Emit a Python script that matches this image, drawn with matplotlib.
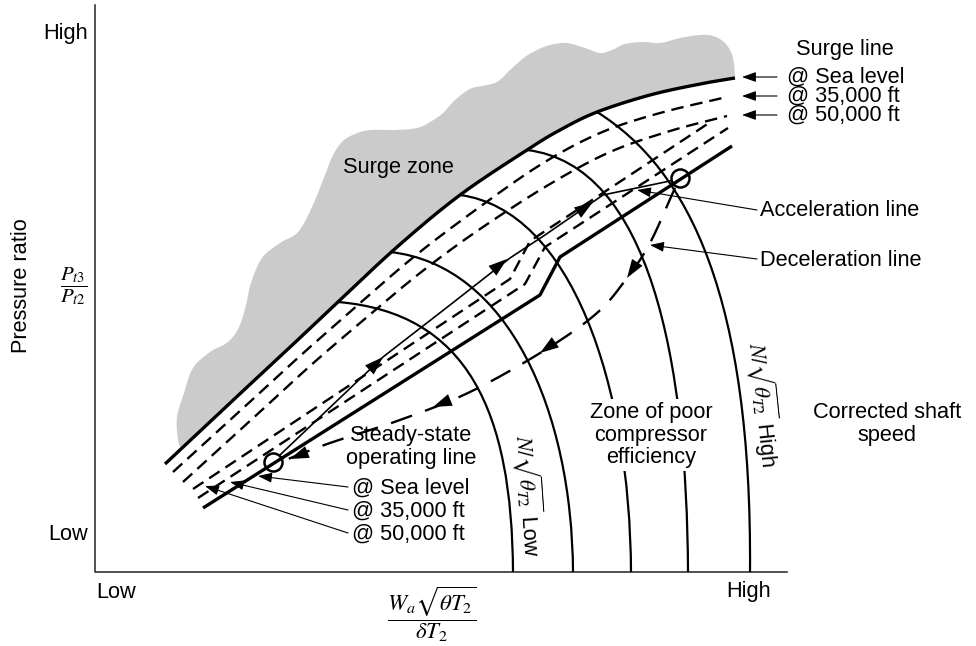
import numpy as np
import matplotlib
matplotlib.use("Agg")
import matplotlib.pyplot as plt
from matplotlib.path import Path
from matplotlib.patches import PathPatch

plt.rcParams['font.family'] = ['Liberation Sans', 'DejaVu Sans']
plt.rcParams['mathtext.fontset'] = 'stix'
plt.rcParams['lines.scale_dashes'] = False

# axis frame (figure pixel coordinates, y down)
frame_x = [95, 95, 787]
frame_y = [5, 572, 572]

# surge lines
surge_sea = [(165, 464), (230, 403), (287, 350), (338, 302), (397, 247), (460, 195),
             (527, 150), (560, 130), (597, 112), (650, 95), (700, 84), (735, 78)]
surge_35k = [(173, 472), (240, 411), (300, 356), (350, 312), (410, 260), (470, 214),
             (540, 165), (600, 133), (660, 113), (727, 97)]
surge_50k = [(183, 482), (250, 421), (310, 366), (360, 323), (420, 273), (480, 229),
             (550, 184), (610, 152), (670, 131), (727, 116)]

# surge zone upper edge, right to left
zone_edge = [(735, 78), (734, 64), (731, 52), (724, 42), (713, 36), (700, 35), (680, 38),
             (660, 43), (643, 42), (625, 44), (612, 50), (600, 53), (585, 48), (567, 43),
             (550, 45), (537, 50), (525, 57), (510, 70), (497, 82), (482, 86), (470, 89),
             (455, 100), (443, 113), (430, 122), (417, 128), (395, 130), (370, 130),
             (355, 134), (343, 141), (333, 155), (325, 175), (312, 207), (298, 232),
             (280, 243), (262, 258), (251, 283), (246, 305), (239, 327), (228, 342),
             (210, 352), (193, 368), (184, 393), (177, 417), (178, 440), (181, 449)]

# steady-state operating lines
op_sea = [(203, 508), (540, 295), (560, 257), (732, 146)]
op_35k = [(198, 498), (525, 284), (545, 247), (728, 128)]
op_50k = [(193, 489), (510, 279), (530, 241), (712, 121)]

# corrected speed lines, low to high (start on surge line, two handles, end on axis)
speed_lines = [
    [(338, 302), (468, 313), (512, 412), (513, 572)],
    [(390, 252), (509, 265), (572, 412), (573, 572)],
    [(460, 195), (571, 210), (630, 384), (631, 572)],
    [(527, 150), (650, 165), (687, 361), (688, 572)],
    [(597, 112), (690, 170), (752, 300), (750, 572)],
]

accel = [(280, 455), (383, 357), (450, 305), (510, 258), (545, 235), (603, 195), (670, 181)]
decel = [(675, 188), (650, 243), (627, 278), (597, 313), (545, 350), (470, 392), (400, 420),
         (330, 443), (283, 461)]
accel_heads = [((273, 462), (383, 357)), ((450, 305), (507, 259)), ((545, 235), (593, 202))]
decel_heads = [((650, 243), (627, 278)), ((597, 313), (540, 353)), ((470, 392), (433, 407)),
               ((330, 443), (290, 459))]
circles_x = [273, 680]
circles_y = [462, 178]


def smooth(pts, n=24):
    p = np.array(pts, dtype=float)
    p = np.vstack([2 * p[0] - p[1], p, 2 * p[-1] - p[-2]])
    out = []
    t = np.linspace(0, 1, n, endpoint=False)[:, None]
    for i in range(1, len(p) - 2):
        p0, p1, p2, p3 = p[i - 1], p[i], p[i + 1], p[i + 2]
        out.append(0.5 * (2 * p1 + (-p0 + p2) * t + (2 * p0 - 5 * p1 + 4 * p2 - p3) * t ** 2
                          + (-p0 + 3 * p1 - 3 * p2 + p3) * t ** 3))
    out.append(p[-2][None, :])
    return np.vstack(out)


fig = plt.figure(figsize=(9.76, 6.46), dpi=100)
ax = fig.add_axes([0, 0, 1, 1])
ax.set_xlim(0, 976)
ax.set_ylim(646, 0)
ax.axis('off')

# surge zone
s = smooth(surge_sea)
e = smooth(zone_edge)
zone = np.vstack([s, e])
ax.fill(zone[:, 0], zone[:, 1], color='#cbcbcb', lw=0, zorder=1)

ax.plot(frame_x, frame_y, color='#222222', lw=1.1, zorder=2)

for ctrl in speed_lines:
    path = Path(ctrl, [Path.MOVETO, Path.CURVE4, Path.CURVE4, Path.CURVE4])
    ax.add_patch(PathPatch(path, facecolor='none', edgecolor='k', lw=1.6, zorder=3))

ax.plot(s[:, 0], s[:, 1], color='k', lw=2.4, zorder=4, solid_capstyle='butt')
for line in [surge_35k, surge_50k]:
    c = smooth(line)
    ax.plot(c[:, 0], c[:, 1], color='k', lw=1.7, dashes=(9, 5), zorder=4)

ax.plot(*zip(*op_sea), color='k', lw=2.4, zorder=4, solid_capstyle='butt')
for line in [op_35k, op_50k]:
    ax.plot(*zip(*line), color='k', lw=1.7, dashes=(9, 5), zorder=4)

a = np.array(accel)
ax.plot(a[:, 0], a[:, 1], color='k', lw=1.2, zorder=5)
d = smooth(decel)
ax.plot(d[:, 0], d[:, 1], color='k', lw=1.7, dashes=(16, 10), zorder=5)

for frm, tip in accel_heads + decel_heads:
    u = np.subtract(tip, frm) / np.hypot(*np.subtract(tip, frm))
    ax.annotate('', xy=tip, xytext=tuple(np.array(tip) - 4 * u),
                arrowprops=dict(arrowstyle='-|>,head_length=0.9,head_width=0.3',
                                color='k', lw=0, shrinkA=0, shrinkB=0, mutation_scale=15),
                zorder=6)

ax.plot(circles_x, circles_y, 'o', ms=13, mfc='none', mec='k', mew=1.8, zorder=6)

# leader arrows
leaders = [((777, 77), (742, 77)), ((777, 96), (742, 96)), ((777, 115), (742, 115)),
           ((757, 210), (637, 190)), ((757, 259), (650, 245)),
           ((348, 487), (258, 476)), ((348, 510), (230, 482)), ((348, 533), (205, 486))]
for frm, tip in leaders:
    ax.annotate('', xy=tip, xytext=frm,
                arrowprops=dict(arrowstyle='-|>,head_length=0.7,head_width=0.25',
                                color='k', lw=0.8, shrinkA=0, shrinkB=0, mutation_scale=12),
                zorder=7)

fs = 15.7
ax.text(88, 33, 'High', ha='right', va='center', fontsize=fs)
ax.text(88, 535, 'Low', ha='right', va='center', fontsize=fs)
ax.text(96, 592, 'Low', ha='left', va='center', fontsize=fs)
ax.text(771, 592, 'High', ha='right', va='center', fontsize=fs)
ax.text(22, 286, 'Pressure ratio', rotation=90, ha='center', va='center', fontsize=fs)
ax.text(74, 286, r'$\dfrac{P_{t3}}{P_{t2}}$', ha='center', va='center', fontsize=15)
ax.text(432, 614, r'$\dfrac{W_a\sqrt{\theta T_2}}{\delta T_2}$', ha='center', va='center',
        fontsize=16.5)

ax.text(845, 50, 'Surge line', ha='center', va='center', fontsize=fs)
ax.text(787, 77, '@ Sea level', ha='left', va='center', fontsize=fs)
ax.text(787, 96, '@ 35,000 ft', ha='left', va='center', fontsize=fs)
ax.text(787, 115, '@ 50,000 ft', ha='left', va='center', fontsize=fs)
ax.text(398, 168, 'Surge zone', ha='center', va='center', fontsize=fs)
ax.text(760, 211, 'Acceleration line', ha='left', va='center', fontsize=fs)
ax.text(760, 260, 'Deceleration line', ha='left', va='center', fontsize=fs)
ax.text(411, 447, 'Steady-state\noperating line', ha='center', va='center', fontsize=fs,
        linespacing=1.08)
ax.text(352, 488, '@ Sea level', ha='left', va='center', fontsize=fs)
ax.text(352, 511, '@ 35,000 ft', ha='left', va='center', fontsize=fs)
ax.text(352, 534, '@ 50,000 ft', ha='left', va='center', fontsize=fs)
ax.text(651, 435, 'Zone of poor\ncompressor\nefficiency', ha='center', va='center',
        fontsize=fs, linespacing=1.08, zorder=8,
        bbox=dict(facecolor='white', edgecolor='none', pad=2))
ax.text(887, 424, 'Corrected shaft\nspeed', ha='center', va='center', fontsize=fs,
        linespacing=1.08)
ax.text(529, 496, r'$N/\sqrt{\theta_{T2}}$ Low', rotation=-86, ha='center', va='center',
        fontsize=fs, rotation_mode='anchor')
ax.text(764, 405, r'$N/\sqrt{\theta_{T2}}$ High', rotation=-84, ha='center', va='center',
        fontsize=fs, rotation_mode='anchor')

fig.savefig('out.png', dpi=100)
